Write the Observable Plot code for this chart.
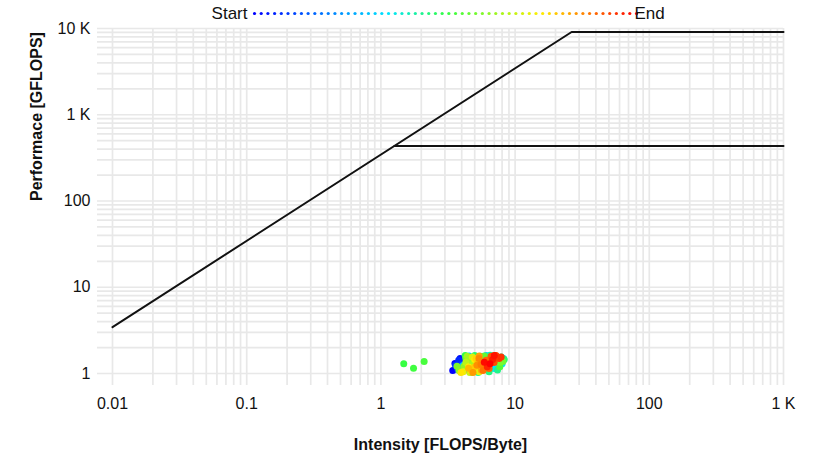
<!DOCTYPE html>
<html>
<head>
<meta charset="utf-8">
<script src="https://cdn.jsdelivr.net/npm/d3@7"></script>
<script src="https://cdn.jsdelivr.net/npm/@observablehq/plot@0.6"></script>
<style>
  body { margin: 0; background: #fff; }
  #wrap { position: relative; width: 816px; height: 462px; }
  #legend { position: absolute; left: 0; top: 0; }
  #chart { position: absolute; left: 0; top: 0; }
</style>
</head>
<body>
<div id="wrap"><div id="chart"></div><div id="legend"></div></div>
<script>
// ---- data (in time order: first = Start, last = End) ----
const intensity = [
  3.43, 3.56, 3.89, 3.70, 3.95, 4.10, 3.80, 4.20, 3.60, 4.00, 4.30, 3.75,
  4.40, 4.60, 5.00, 4.45, 5.30, 4.80, 5.50, 4.20, 5.80, 4.90, 6.20, 5.10, 4.50, 5.60, 6.00, 4.70, 5.20, 6.50,
  4.09, 4.54, 6.08, 8.20, 8.00, 6.97, 4.70, 7.60, 7.90, 5.50, 7.20, 6.50, 7.90, 5.30, 7.40, 6.40, 8.30, 5.00, 4.40, 4.25,
  1.48, 1.75, 2.10, 7.70, 7.00, 5.90, 4.30, 8.10, 7.70, 3.69,
  3.82, 4.16, 4.70, 4.40, 4.90, 5.10, 4.30, 5.20, 4.60, 5.60, 4.80, 5.40, 4.10, 4.50, 5.00,
  3.95, 4.70, 5.12, 5.00, 5.30, 4.50, 5.60, 5.40, 4.85, 5.20,
  5.38, 5.57, 5.77, 6.08, 6.40, 6.62, 6.97, 7.21, 7.60, 7.87, 6.20, 6.80, 7.00, 5.90, 6.50
];
const gflops = [
  1.08, 1.31, 1.49, 1.20, 1.05, 1.36, 1.42, 1.15, 1.25, 1.28, 1.45, 1.12,
  1.22, 1.35, 1.30, 1.10, 1.45, 1.50, 1.28, 1.25, 1.40, 1.18, 1.35, 1.55, 1.45, 1.15, 1.22, 1.25, 1.38, 1.30,
  1.24, 1.60, 1.62, 1.49, 1.30, 1.14, 1.03, 1.25, 1.40, 1.58, 1.58, 1.63, 1.55, 1.03, 1.10, 1.05, 1.45, 1.62, 1.55, 1.62,
  1.30, 1.15, 1.38, 1.20, 1.62, 1.60, 1.50, 1.38, 1.35, 1.21,
  1.08, 1.21, 1.42, 1.58, 1.30, 1.10, 1.35, 1.50, 1.03, 1.20, 1.55, 1.05, 1.05, 1.20, 1.45,
  1.03, 1.08, 1.49, 1.20, 1.35, 1.15, 1.10, 1.60, 1.03, 1.25,
  1.49, 1.27, 1.08, 1.42, 1.14, 1.58, 1.34, 1.62, 1.49, 1.55, 1.20, 1.45, 1.62, 1.35, 1.30
];
const bandwidth = 345;          // GB/s (slope of roofline)
const ceilings = [9100, 435];   // GFLOPS
const xTicks = [0.01, 0.1, 1, 10, 100, 1000];
const xTickLabels = ["0.01", "0.1", "1", "10", "100", "1 K"];
const yTicks = [1, 10, 100, 1000, 10000];
const yTickLabels = ["1", "10", "100", "1 K", "10 K"];
const xDomain = [0.01, 1000];
const yDomain = [1, 10000];
const xLabel = "Intensity [FLOPS/Byte]";
const yLabel = "Performace [GFLOPS]";
const legendLabels = ["Start", "End"];
const rampColors = ["#0000ff", "#00e5ff", "#33ff44", "#ffee00", "#ff0000"];
const rampStops = [0, 0.35, 0.5, 0.75, 1];

// ---- build tables ----
const N = intensity.length;
const points = intensity.map((x, i) => ({x, y: gflops[i], t: i / (N - 1)}));
const roof = [
  {x: xDomain[0], y: bandwidth * xDomain[0]},
  {x: ceilings[0] / bandwidth, y: ceilings[0]},
  {x: xDomain[1], y: ceilings[0]}
];
const roof2 = [
  {x: ceilings[1] / bandwidth, y: ceilings[1]},
  {x: xDomain[1], y: ceilings[1]}
];
const xMinor = d3.scaleLog().domain(xDomain).ticks();
const yMinor = d3.scaleLog().domain(yDomain).ticks();
const colorScale = {type: "linear", domain: rampStops, range: rampColors, interpolate: "rgb"};
const font = "Helvetica, Arial, 'Liberation Sans', sans-serif";
const gridStyle = {stroke: "#e8e8e8", strokeOpacity: 1, strokeWidth: 1.7};

const chart = Plot.plot({
  width: 816, height: 462,
  marginLeft: 97, marginRight: 33, marginTop: 28, marginBottom: 77,
  style: {fontFamily: font, fontSize: "16px", color: "#111", background: "#fff"},
  x: {type: "log", domain: xDomain, insetLeft: 15},
  y: {type: "log", domain: yDomain, insetBottom: 12},
  color: colorScale,
  marks: [
    Plot.gridX(xMinor, gridStyle),
    Plot.gridY(yMinor, gridStyle),
    Plot.axisX(xTicks, {tickSize: 0, tickPadding: 12, label: null, fontSize: 16,
      tickFormat: d => xTickLabels[xTicks.indexOf(d)]}),
    Plot.axisY(yTicks, {tickSize: 0, tickPadding: 7, label: null, fontSize: 16,
      tickFormat: d => yTickLabels[yTicks.indexOf(d)]}),
    Plot.line(roof, {x: "x", y: "y", stroke: "#111", strokeWidth: 2}),
    Plot.line(roof2, {x: "x", y: "y", stroke: "#111", strokeWidth: 2}),
    Plot.dot(points, {x: "x", y: "y", r: 3.5, fill: "t"}),
    Plot.text([xLabel], {frameAnchor: "bottom", dy: 64, fontWeight: "bold", fontSize: 16}),
    Plot.text([yLabel], {frameAnchor: "left", dx: -61, dy: -6, rotate: -90, fontWeight: "bold", fontSize: 16})
  ]
});
document.getElementById("chart").appendChild(chart);

// ---- legend ----
const L = 58;
const steps = d3.range(L);
const legend = Plot.plot({
  width: 816, height: 26,
  marginLeft: 254, marginRight: 180, marginTop: 0, marginBottom: 0,
  style: {fontFamily: font, fontSize: "17px", color: "#111", background: "transparent"},
  x: {domain: [0, L - 1], axis: null},
  color: colorScale,
  marks: [
    Plot.dot(steps, {x: d => d, r: 1.6, fill: d => d / (L - 1), frameAnchor: "middle"}),
    Plot.text([0], {x: d => d, text: () => legendLabels[0], dx: -7, textAnchor: "end", frameAnchor: "middle", fontSize: 17}),
    Plot.text([L - 1], {x: d => d, text: () => legendLabels[1], dx: -2, textAnchor: "start", frameAnchor: "middle", fontSize: 17})
  ]
});
document.getElementById("legend").appendChild(legend);
</script>
</body>
</html>
